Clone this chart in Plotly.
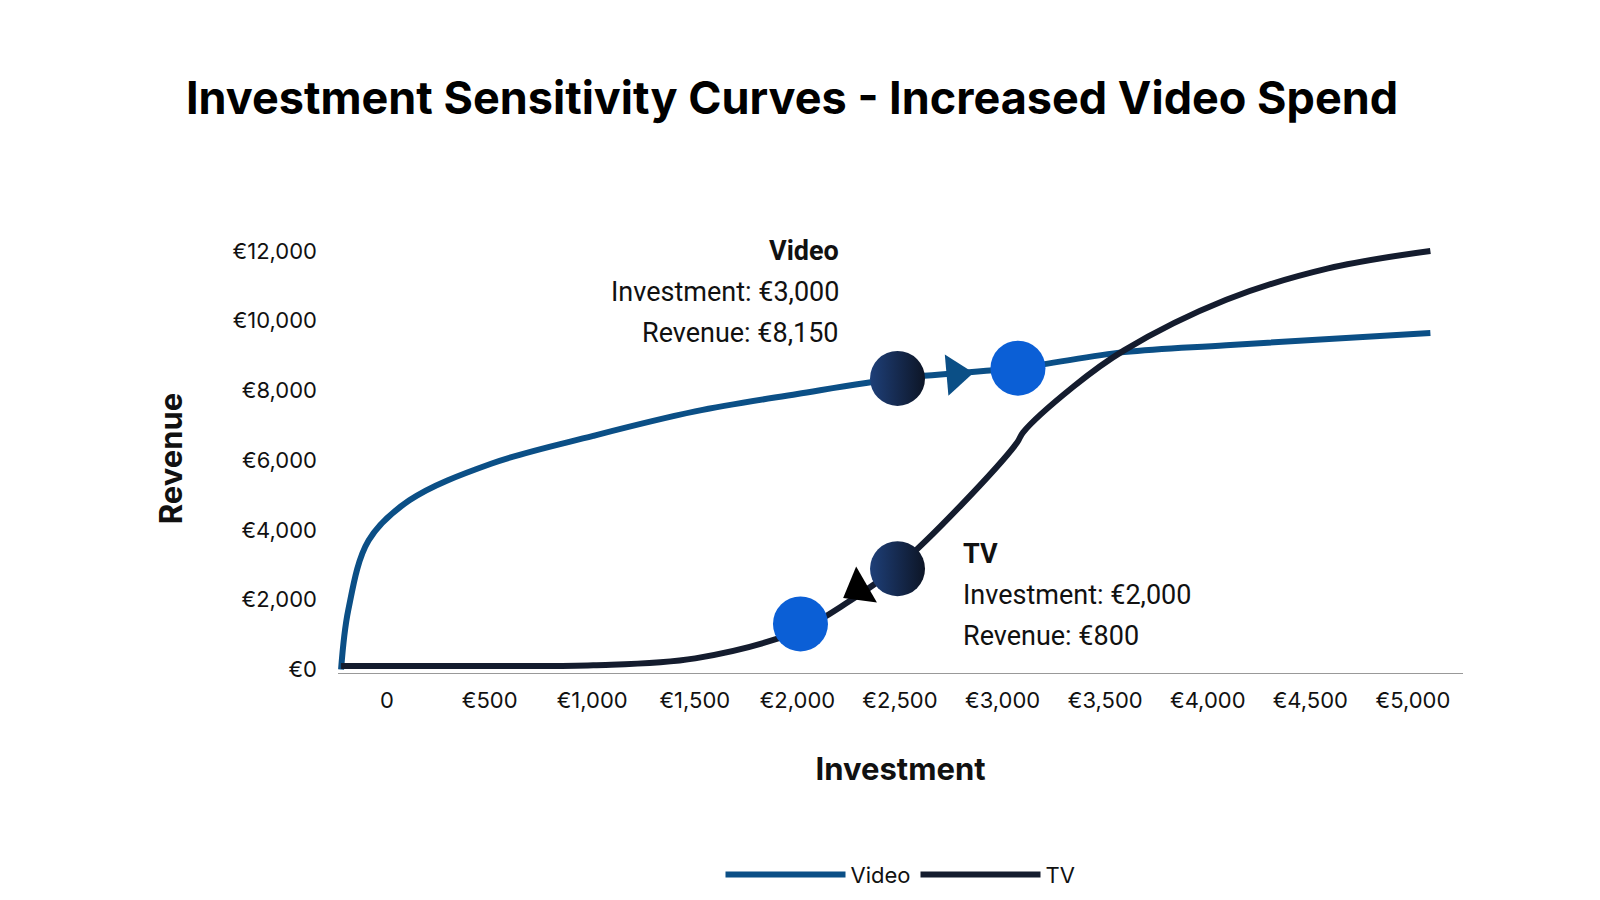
import plotly.graph_objects as go

video_x = [-224, -189, -90, 109, 507, 1005, 1502, 2000, 2498, 3075, 3592, 4090, 5085]
video_y = [0, 1700, 3700, 4850, 5900, 6700, 7400, 7900, 8350, 8650, 9100, 9300, 9650]
tv_x = [-224, 507, 1005, 1502, 2000, 2249, 2498, 2796, 3070, 3100, 3343, 3592, 4090, 4587, 5085]
tv_y = [100, 100, 120, 320, 1100, 1940, 3000, 4700, 6500, 6800, 8100, 9150, 10600, 11500, 12000]
tick_vals = [0, 500, 1000, 1500, 2000, 2500, 3000, 3500, 4000, 4500, 5000]
tick_text = ["0", "€500", "€1,000", "€1,500", "€2,000", "€2,500", "€3,000", "€3,500", "€4,000", "€4,500", "€5,000"]
ytick_vals = [0, 2000, 4000, 6000, 8000, 10000, 12000]
ytick_text = ["€0", "€2,000", "€4,000", "€6,000", "€8,000", "€10,000", "€12,000"]
old_pts_x = [2488, 2488]
old_pts_y = [8346, 2891]
new_pts_x = [3075, 2015]
new_pts_y = [8640, 1308]

VC = "#0b4f86"
TC = "#141c2e"
fig = go.Figure()
fig.add_trace(go.Scatter(x=video_x, y=video_y, mode="lines", name="Video",
                         line=dict(color=VC, width=6, shape="spline")))
fig.add_trace(go.Scatter(x=tv_x, y=tv_y, mode="lines", name="TV",
                         line=dict(color=TC, width=6, shape="spline")))
fig.add_trace(go.Scatter(x=[2771], y=[8463], mode="markers", showlegend=False,
                         marker=dict(symbol="triangle-right", size=36, color=VC, angle=-5)))
fig.add_trace(go.Scatter(x=[2299], y=[2305], mode="markers", showlegend=False,
                         marker=dict(symbol="triangle-up", size=36, color="#000000", angle=240)))
fig.add_trace(go.Scatter(x=old_pts_x, y=old_pts_y, mode="markers", showlegend=False,
                         marker=dict(size=55, color="#1e3f78", line=dict(width=0),
                                     gradient=dict(type="horizontal", color="#0d1526"))))
fig.add_trace(go.Scatter(x=new_pts_x, y=new_pts_y, mode="markers", showlegend=False,
                         marker=dict(size=55, color="#0b5fd6", line=dict(width=0))))

F = "Roboto"
def ann(x, y, t, anchor, bold=False):
    fig.add_annotation(x=x, y=y, xref="x", yref="y", text=("<b>%s</b>" % t) if bold else t,
                       showarrow=False, xanchor=anchor, yanchor="middle",
                       font=dict(family=F, size=27, color="#111111"))
ann(2214, 12000, "Video", "right", True)
ann(2214, 10830, "Investment: €3,000", "right")
ann(2214, 9660, "Revenue: €8,150", "right")
ann(2796, 3300, "TV", "left", True)
ann(2796, 2130, "Investment: €2,000", "left")
ann(2796, 957, "Revenue: €800", "left")

fig.update_layout(
    width=1600, height=900, plot_bgcolor="white", paper_bgcolor="white",
    margin=dict(l=330, r=145, t=236, b=232),
    title=dict(text="<b>Investment Sensitivity Curves - Increased Video Spend</b>",
               x=0.49, xanchor="center", y=0.9, yanchor="middle",
               font=dict(family="Inter", size=45, color="#000000")),
    font=dict(family="Inter", size=22, color="#111111"),
    xaxis=dict(range=[-239, 5244], tickvals=tick_vals, ticktext=tick_text, showgrid=False,
               zeroline=False, showline=True, linecolor="#999999", linewidth=1,
               ticklabelstandoff=8,
               title=dict(text="<b>Investment</b>", font=dict(size=31), standoff=45)),
    yaxis=dict(range=[-100, 12200], tickvals=ytick_vals, ticktext=ytick_text, showgrid=False,
               zeroline=False, ticklabelstandoff=20,
               title=dict(text="<b>Revenue</b>", font=dict(size=31), standoff=40)),
    legend=dict(orientation="h", x=0.5, xanchor="center", y=-0.47, yanchor="middle",
                font=dict(size=22), itemwidth=120, tracegroupgap=40),
)
fig.write_html("out.html")
